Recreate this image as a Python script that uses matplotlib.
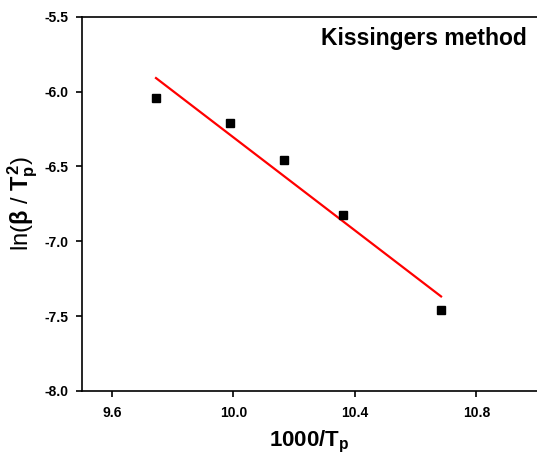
import numpy as np
import matplotlib
matplotlib.use('Agg')
import matplotlib.pyplot as plt

plt.rcParams['font.family'] = ['Liberation Sans', 'DejaVu Sans']
plt.rcParams['font.weight'] = 'bold'
plt.rcParams['mathtext.fontset'] = 'custom'
plt.rcParams['mathtext.rm'] = 'Liberation Sans:bold'
plt.rcParams['mathtext.it'] = 'Liberation Sans:bold'
plt.rcParams['mathtext.bf'] = 'Liberation Sans:bold'

# data
inv_tp = [9.745, 9.988, 10.165, 10.362, 10.684]
ln_beta = [-6.04, -6.207, -6.46, -6.827, -7.462]

xticks = [9.6, 10.0, 10.4, 10.8]
yticks = [-8.0, -7.5, -7.0, -6.5, -6.0, -5.5]

x = np.array(inv_tp)
y = np.array(ln_beta)
slope, icpt = np.polyfit(x, y, 1)

fig = plt.figure(figsize=(5.37, 4.54), dpi=100)
ax = fig.add_axes([0.152, 0.1388, 0.848, 0.8244])

ax.plot(x, y, 's', color='black', markersize=6, zorder=3)
xf = np.array([x.min(), x.max()])
ax.plot(xf, slope * xf + icpt, color='red', linewidth=1.6)

ax.set_xlim(9.5, 11.0)
ax.set_ylim(-8.0, -5.5)
ax.set_xticks(xticks)
ax.set_yticks(yticks)
ax.set_xticklabels([f'{v:.1f}' for v in xticks], fontsize=10, fontweight='bold')
ax.set_yticklabels([f'{v:.1f}' for v in yticks], fontsize=10, fontweight='bold')
ax.tick_params(direction='out', length=4.5, width=1.2, top=False, right=False)
ax.tick_params(axis='y', pad=5)
ax.tick_params(axis='x', pad=6)

ax.spines['right'].set_visible(False)
for s in ['left', 'bottom', 'top']:
    ax.spines[s].set_linewidth(1.2)

ax.set_xlabel('$1000/T_p$', fontsize=16, labelpad=7)
ax.set_ylabel(r'ln($\beta$ / $T_p^2$)', fontsize=17, labelpad=3)

ax.text(0.978, 0.942, 'Kissingers method', transform=ax.transAxes,
        ha='right', va='center', fontsize=16.5, fontweight='bold')

fig.savefig('out.png', dpi=100)
